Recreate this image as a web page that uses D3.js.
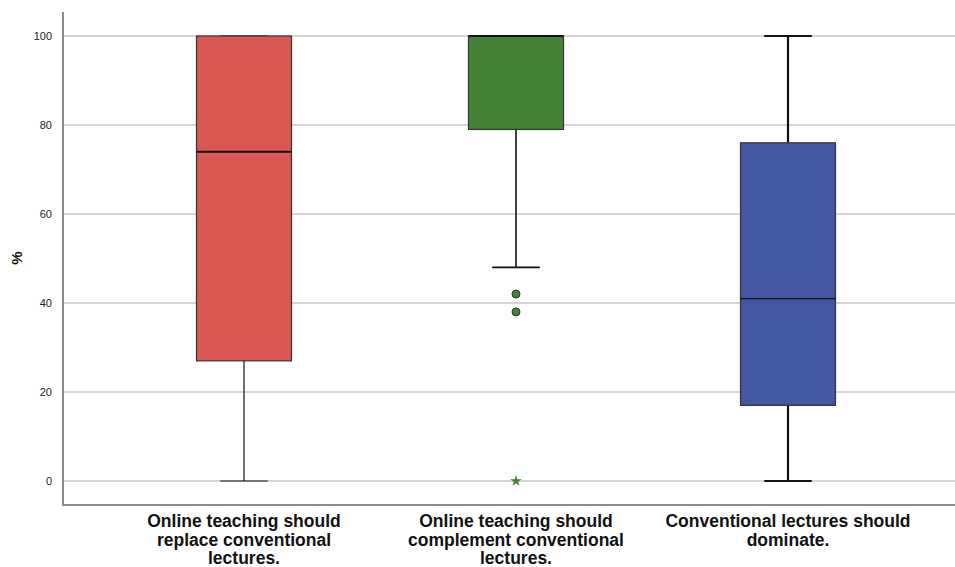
<!DOCTYPE html>
<html>
<head>
<meta charset="utf-8">
<script src="https://cdn.jsdelivr.net/npm/d3@7/dist/d3.min.js"></script>
<style>
  html, body { margin: 0; padding: 0; background: #fff; }
  svg { display: block; font-family: "Liberation Sans", Arial, sans-serif; }
</style>
</head>
<body>
<svg id="chart" width="955" height="567"></svg>
<script>
// Groups and their five-number summaries (percent)
const categories = [
  "Online teaching should replace conventional lectures.",
  "Online teaching should complement conventional lectures.",
  "Conventional lectures should dominate."
];
const categoryLines = [
  ["Online teaching should", "replace conventional", "lectures."],
  ["Online teaching should", "complement conventional", "lectures."],
  ["Conventional lectures should", "dominate."]
];
const whiskerLow  = [0, 48, 0];
const q1          = [27, 79, 17];
const medians     = [74, 100, 41];
const q3          = [100, 100, 76];
const whiskerHigh = [100, 100, 100];
const outliers    = [[], [42, 38], []];   // circles
const extremes    = [[], [0], []];        // stars
const colors      = ["#d95851", "#448236", "#4357a3"];
const yTicks      = [0, 20, 40, 60, 80, 100];

const svg = d3.select("#chart");
const margin = { left: 63, right: 0, top: 12, bottom: 62 };
const W = 955, H = 567;

const y = d3.scaleLinear().domain([0, 100]).range([481, 36]);
const x = d3.scaleBand().domain(categories).range([108, 924]).paddingInner(0.3).paddingOuter(0.15);
const boxW = 95;
const cx = c => x(c) + x.bandwidth() / 2;

// gridlines
svg.append("g").selectAll("line").data(yTicks).join("line")
  .attr("x1", margin.left).attr("x2", W)
  .attr("y1", d => y(d)).attr("y2", d => y(d))
  .attr("stroke", "#c9c9c9").attr("stroke-width", 1.5);

// y axis tick labels
const yAxis = d3.axisLeft(y).tickValues(yTicks).tickSize(0).tickPadding(11);
const ga = svg.append("g").attr("transform", `translate(${margin.left},0)`).call(yAxis);
ga.select(".domain").remove();
ga.selectAll("text").attr("font-size", 11).attr("fill", "#222")
  .attr("font-family", "'Liberation Sans', Arial, sans-serif");

// axis lines
svg.append("line").attr("x1", margin.left).attr("x2", margin.left)
  .attr("y1", margin.top).attr("y2", 505).attr("stroke", "#8c8c8c").attr("stroke-width", 2);
svg.append("line").attr("x1", margin.left - 1).attr("x2", W)
  .attr("y1", 505).attr("y2", 505).attr("stroke", "#8c8c8c").attr("stroke-width", 2);

// y axis title
svg.append("text").attr("transform", `translate(22,258) rotate(-90)`)
  .attr("text-anchor", "middle").attr("font-weight", "bold").attr("font-size", 15)
  .attr("fill", "#111").text("%");

// line weights per group
const whiskerW = [1.2, 1.6, 2.2];
const medianW  = [2, 2, 1.2];

categories.forEach((c, i) => {
  const g = svg.append("g");
  const xc = cx(c);
  // whiskers
  g.append("line").attr("x1", xc).attr("x2", xc)
    .attr("y1", y(q1[i])).attr("y2", y(whiskerLow[i]))
    .attr("stroke", "#111").attr("stroke-width", whiskerW[i]);
  g.append("line").attr("x1", xc).attr("x2", xc)
    .attr("y1", y(q3[i])).attr("y2", y(whiskerHigh[i]))
    .attr("stroke", "#111").attr("stroke-width", whiskerW[i]);
  [whiskerLow[i], whiskerHigh[i]].forEach(v => {
    g.append("line").attr("x1", xc - boxW / 4).attr("x2", xc + boxW / 4)
      .attr("y1", y(v)).attr("y2", y(v))
      .attr("stroke", "#111").attr("stroke-width", whiskerW[i]);
  });
  // box
  g.append("rect").attr("x", xc - boxW / 2).attr("width", boxW)
    .attr("y", y(q3[i])).attr("height", y(q1[i]) - y(q3[i]))
    .attr("fill", colors[i]).attr("stroke", "#333").attr("stroke-width", 1.2);
  // median
  g.append("line").attr("x1", xc - boxW / 2).attr("x2", xc + boxW / 2)
    .attr("y1", y(medians[i])).attr("y2", y(medians[i]))
    .attr("stroke", "#111").attr("stroke-width", medianW[i]);
  // outliers
  g.selectAll("circle").data(outliers[i]).join("circle")
    .attr("cx", xc).attr("cy", d => y(d)).attr("r", 4)
    .attr("fill", colors[i]).attr("stroke", "#333").attr("stroke-width", 1);
  g.selectAll("path.ext").data(extremes[i]).join("path").attr("class", "ext")
    .attr("transform", d => `translate(${xc},${y(d)})`)
    .attr("d", d3.symbol(d3.symbolStar, 40))
    .attr("fill", colors[i]);
  // category label
  const t = svg.append("text").attr("text-anchor", "middle")
    .attr("font-weight", "bold").attr("font-size", 17.5).attr("fill", "#111");
  categoryLines[i].forEach((ln, k) => {
    t.append("tspan").attr("x", xc).attr("y", 527 + k * 18.5).text(ln);
  });
});
</script>
</body>
</html>
